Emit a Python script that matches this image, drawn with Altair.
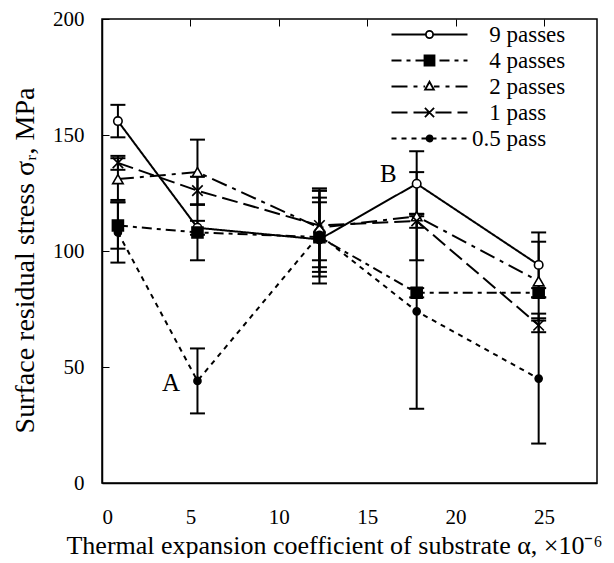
import altair as alt
import pandas as pd

# ---------------- data ----------------
x_alpha = [0.9, 5.4, 12.3, 17.8, 24.7]
series_names = ["9 passes", "4 passes", "2 passes", "1 pass", "0.5 pass"]
# legend texts as printed (aligned on the decimal point in the reference);
# a zero-width space keeps the leading no-break spaces from being trimmed
PAD = "\u200b\u00a0\u00a0\u00a0"
legend_texts = [PAD + "9 passes", PAD + "4 passes", PAD + "2 passes", PAD + "1 pass",
                "0.5 pass"]

stress_9 = [156, 110, 105, 129, 94]
err_9 = [7, 3, 16, 14, 14]
stress_4 = [111, 108, 106, 82, 82]
err_4 = [10, 12, 20, 2, 2]
stress_2 = [131, 134, 110, 115, 87]
err_2 = [9, 14, 17, 19, 17]
stress_1 = [138, 126, 111, 113, 68]
err_1 = [3, 6, 15, 3, 3]
stress_05 = [108, 44, 107, 74, 45]
err_05 = [13, 14, 16, 42, 28]

annot_labels = ["A", "B"]
annot_x = [3.9, 16.2]
annot_y = [43, 133]

x_ticks = [0, 5, 10, 15, 20, 25]
y_ticks = [0, 50, 100, 150, 200]

XTITLE = "Thermal expansion coefficient of substrate \u03b1, \u00d710\u207b\u2076"
YTITLE = "Surface residual stress \u03c3\u1d63, MPa"
FONT = "Liberation Serif"

# ---------------- build tables ----------------
vals = [stress_9, stress_4, stress_2, stress_1, stress_05]
errs = [err_9, err_4, err_2, err_1, err_05]
rows = []
for name, v, e in zip(series_names, vals, errs):
    for xx, yy, ee in zip(x_alpha, v, e):
        rows.append({"series": name, "x": xx, "y": yy, "lo": yy - ee, "hi": yy + ee})
df = pd.DataFrame(rows)
annot = pd.DataFrame({"label": annot_labels, "ax": annot_x, "ay": annot_y})

# ---------------- styles ----------------
dashes = [[1, 0], [10, 5, 4, 5], [16, 6, 4, 6], [16, 6], [5, 5]]
point_shapes = ["circle", "square", "triangle-up", "M-1,-1L1,1M-1,1L1,-1", "circle"]
point_fills = ["white", "black", "white", "black", "black"]
point_sizes = [72, 121, 110, 110, 50]

R = 4.5          # px per unit of a legend symbol path (symbolSize 81)
HALF = 38        # half length of the legend line in px


def fmt(v):
    return f"{v / R:.3f}"


def circle_path(rad):
    k = 0.5523 * rad
    p = [f"M{fmt(rad)},0",
         f"C{fmt(rad)},{fmt(k)} {fmt(k)},{fmt(rad)} 0,{fmt(rad)}",
         f"C{fmt(-k)},{fmt(rad)} {fmt(-rad)},{fmt(k)} {fmt(-rad)},0",
         f"C{fmt(-rad)},{fmt(-k)} {fmt(-k)},{fmt(-rad)} 0,{fmt(-rad)}",
         f"C{fmt(k)},{fmt(-rad)} {fmt(rad)},{fmt(-k)} {fmt(rad)},0Z"]
    return "".join(p)


legend_markers = [
    (circle_path(3.6), 3.6),
    (f"M{fmt(-5)},{fmt(-5)}H{fmt(5)}V{fmt(5)}H{fmt(-5)}Z", 5),
    (f"M0,{fmt(-4.8)}L{fmt(4.4)},{fmt(3.2)}L{fmt(-4.4)},{fmt(3.2)}Z", 4.4),
    (f"M{fmt(-4.6)},{fmt(-4.6)}L{fmt(4.6)},{fmt(4.6)}M{fmt(-4.6)},{fmt(4.6)}L{fmt(4.6)},{fmt(-4.6)}", 0),
    (circle_path(3.0), 3.0),
]


def legend_path(dash, marker, mhalf):
    segs = []
    if dash == [1, 0]:
        segs = [(-HALF, HALF)]
    else:
        pos, i = -HALF, 0
        while pos < HALF:
            d = dash[i % len(dash)]
            if i % 2 == 0:
                segs.append((pos, min(pos + d, HALF)))
            pos += d
            i += 1
    out = []
    for a, b in segs:
        for lo, hi in [(a, min(b, -mhalf)), (max(a, mhalf), b)]:
            if hi - lo > 0.5:
                out.append(f"M{fmt(lo)},0H{fmt(hi)}")
    return "".join(out) + marker


legend_shapes = [legend_path(d, m, h) for d, (m, h) in zip(dashes, legend_markers)]

# ---------------- encodings ----------------
x_axis = alt.Axis(values=x_ticks, format="d", ticks=False, grid=True, gridColor="black",
                  gridWidth=1, gridDash=[7, 2000], domainColor="black", domainWidth=1.5,
                  labelFont=FONT, labelFontSize=21, labelColor="black", labelPadding=23,
                  titleFont=FONT, titleFontSize=26, titleFontWeight="normal",
                  titleColor="black", titlePadding=5, titleX=232, titleAlign="center")
y_axis = alt.Axis(values=y_ticks, format="d", ticks=False, grid=True, gridColor="black",
                  gridWidth=1, gridDash=[7, 2000], domainColor="black", domainWidth=1.5,
                  labelFont=FONT, labelFontSize=21, labelColor="black", labelPadding=18,
                  titleFont=FONT, titleFontSize=28, titleFontWeight="normal",
                  titleColor="black", titlePadding=13, titleY=241)
xs = alt.Scale(domain=[0, 28], nice=False, zero=False)
ys = alt.Scale(domain=[0, 200], nice=False)


def X(f):
    return alt.X(f"{f}:Q", title=XTITLE, scale=xs, axis=x_axis)


def Y(f):
    return alt.Y(f"{f}:Q", title=YTITLE, scale=ys, axis=y_axis)


base = alt.Chart(df)

lines = base.mark_line(color="black", strokeWidth=2).encode(
    x=X("x"), y=Y("y"),
    strokeDash=alt.StrokeDash("series:N", scale=alt.Scale(domain=series_names, range=dashes),
                              legend=None),
)

bars = base.mark_rule(color="black", strokeWidth=2).encode(
    x=X("x"), y=Y("lo"), y2=alt.Y2("hi:Q"))
cap_lo = base.mark_tick(orient="horizontal", color="black", size=15, thickness=2,
                        opacity=1).encode(x=X("x"), y=Y("lo"))
cap_hi = base.mark_tick(orient="horizontal", color="black", size=15, thickness=2,
                        opacity=1).encode(x=X("x"), y=Y("hi"))

points = base.mark_point(filled=True, stroke="black", strokeWidth=1.6, opacity=1).encode(
    x=X("x"), y=Y("y"),
    shape=alt.Shape("series:N", scale=alt.Scale(domain=series_names, range=point_shapes),
                    legend=None),
    fill=alt.Fill("series:N", scale=alt.Scale(domain=series_names, range=point_fills),
                  legend=None),
    size=alt.Size("series:N", scale=alt.Scale(type="ordinal", domain=series_names,
                                              range=point_sizes),
                  legend=None),
)

leg = alt.Legend(title=None, orient="none", legendX=316, legendY=4, symbolSize=81,
                 symbolStrokeWidth=1.8, symbolStrokeColor="black", labelFont=FONT,
                 labelFontSize=23, labelColor="black", labelOffset=31, rowPadding=2,
                 padding=0)

legend_layer = base.transform_filter("false").mark_point(
    filled=True, strokeWidth=1.8, opacity=1).encode(
    x=X("x"), y=Y("y"),
    shape=alt.Shape("series:N", scale=alt.Scale(domain=legend_texts, range=legend_shapes),
                    legend=leg),
    fill=alt.Fill("series:N", scale=alt.Scale(domain=legend_texts, range=point_fills),
                  legend=leg),
    stroke=alt.Stroke("series:N", scale=alt.Scale(domain=legend_texts,
                                                  range=["black"] * 5),
                      legend=leg),
)

texts = alt.Chart(annot).mark_text(font=FONT, fontSize=25, color="black").encode(
    x=X("ax"), y=Y("ay"), text="label:N")

chart = alt.layer(lines, bars, cap_lo, cap_hi, points, legend_layer, texts).resolve_scale(
    shape="independent", fill="independent", stroke="independent"
).properties(
    width=495, height=464,
    padding={"left": 3, "top": 0, "right": 0, "bottom": 0},
).configure_view(stroke="black", strokeWidth=1.5)

chart.save("out.html", embed_options={"renderer": "svg", "actions": False})
